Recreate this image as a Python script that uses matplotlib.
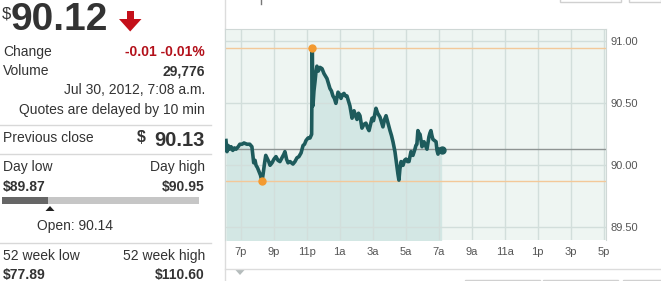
import matplotlib
matplotlib.use("Agg")
import matplotlib.pyplot as plt
from matplotlib.patches import Rectangle, Polygon

plt.rcParams['font.family'] = ['Liberation Sans', 'DejaVu Sans']

# hours since 6p (Jul 29) and last price
hours = [0.11, 0.17, 0.24, 0.32, 0.42, 0.52, 0.62, 0.72, 0.85, 0.95, 1.08, 1.2, 1.38, 1.55,
         1.68, 1.79, 1.87, 1.93, 2.02, 2.11, 2.2, 2.29, 2.36, 2.45, 2.52, 2.59, 2.7, 2.78,
         2.9, 3.02, 3.14, 3.26, 3.38, 3.5, 3.62, 3.68, 3.78, 3.87, 3.99, 4.08, 4.17, 4.29,
         4.41, 4.53, 4.66, 4.78, 4.87, 4.96, 5.08, 5.2, 5.3, 5.34, 5.38, 5.44, 5.5, 5.56,
         5.62, 5.7, 5.81, 5.93, 6.05, 6.14, 6.23, 6.32, 6.41, 6.5, 6.59, 6.68, 6.77, 6.9,
         7.0, 7.08, 7.17, 7.26, 7.35, 7.44, 7.53, 7.62, 7.75, 7.87, 7.96, 8.05, 8.14, 8.23,
         8.35, 8.47, 8.59, 8.7, 8.78, 8.87, 8.96, 9.05, 9.14, 9.2, 9.3, 9.44, 9.53, 9.62,
         9.72, 9.81, 9.93, 10.05, 10.14, 10.23, 10.35, 10.41, 10.47, 10.53, 10.59, 10.65,
         10.72, 10.78, 10.84, 10.93, 11.02, 11.11, 11.2, 11.32, 11.44, 11.56, 11.62, 11.68,
         11.74, 11.8, 11.87, 11.93, 11.99, 12.05, 12.11, 12.2, 12.29, 12.35, 12.41, 12.47,
         12.53, 12.59, 12.65, 12.75, 12.84, 12.9, 12.96, 13.02, 13.08, 13.13, 13.18]
prices = [90.20, 90.11, 90.16, 90.13, 90.15, 90.12, 90.14, 90.13, 90.15, 90.17, 90.17, 90.18,
          90.17, 90.17, 90.15, 90.02, 90.04, 90.00, 89.98, 89.95, 89.92, 89.87, 89.93, 90.02,
          90.08, 90.06, 90.03, 90.00, 90.02, 90.05, 90.07, 90.04, 90.03, 90.06, 90.09, 90.11,
          90.05, 90.02, 90.03, 90.02, 90.01, 90.03, 90.06, 90.07, 90.10, 90.16, 90.17, 90.20,
          90.22, 90.22, 90.25, 90.95, 90.48, 90.60, 90.67, 90.75, 90.80, 90.76, 90.79, 90.78,
          90.74, 90.72, 90.70, 90.66, 90.62, 90.60, 90.56, 90.54, 90.50, 90.59, 90.57, 90.54,
          90.57, 90.58, 90.56, 90.56, 90.52, 90.48, 90.38, 90.44, 90.40, 90.37, 90.42, 90.40,
          90.30, 90.33, 90.34, 90.30, 90.28, 90.33, 90.38, 90.36, 90.42, 90.46, 90.42, 90.39,
          90.35, 90.31, 90.37, 90.40, 90.34, 90.28, 90.24, 90.19, 90.11, 90.05, 89.99, 89.93,
          89.88, 89.97, 90.03, 90.00, 90.00, 90.04, 90.05, 90.03, 90.03, 90.11, 90.08, 90.13,
          90.16, 90.17, 90.28, 90.26, 90.25, 90.20, 90.15, 90.17, 90.19, 90.16, 90.13, 90.18,
          90.23, 90.26, 90.28, 90.24, 90.21, 90.20, 90.19, 90.12, 90.09, 90.13, 90.13, 90.12,
          90.12]

tick_hours = [1, 3, 5, 7, 9, 11, 13, 15, 17, 19, 21, 23]
tick_labels = ['7p', '9p', '11p', '1a', '3a', '5a', '7a', '9a', '11a', '1p', '3p', '5p']
price_ticks = [89.5, 90.0, 90.5, 91.0]

prev_close = 90.13
day_low = 89.87
day_high = 90.95
open_price = 90.14

W, H = 661, 281
fig = plt.figure(figsize=(W / 100, H / 100), dpi=100)

# full-figure pixel canvas for the quote panel
bg = fig.add_axes([0, 0, 1, 1])
bg.set_xlim(0, W)
bg.set_ylim(H, 0)
bg.axis('off')

dark = '#333333'
red = '#b3101a'
fs = 10

bg.text(2, 14, '$', fontsize=12, color=dark, va='center', ha='left')
bg.text(11, 20.5, '90.12', fontsize=28, fontweight='bold', color=dark, va='center', ha='left')
bg.add_patch(Rectangle((126.5, 11), 7.5, 9, color='#c4101a', lw=0))
bg.add_patch(Polygon([(119, 19), (141.5, 19), (130.2, 31.5)], closed=True, color='#c4101a', lw=0))

bg.text(3, 52, 'Change', fontsize=fs, color=dark, va='center')
bg.text(205, 52, '-0.01 -0.01%', fontsize=fs, color=red, fontweight='bold', va='center', ha='right')
bg.text(3, 71, 'Volume', fontsize=fs, color=dark, va='center')
bg.text(205, 71, '29,776', fontsize=fs, color=dark, fontweight='bold', va='center', ha='right')
bg.text(205, 90, 'Jul 30, 2012, 7:08 a.m.', fontsize=fs, color=dark, va='center', ha='right')
bg.text(205, 110, 'Quotes are delayed by 10 min', fontsize=fs, color=dark, va='center', ha='right')
bg.plot([0, 211], [124.5, 124.5], color='#d8d8d8', lw=1)

bg.text(3, 138, 'Previous close', fontsize=fs, color=dark, va='center')
bg.text(205, 141, '%.2f' % prev_close, fontsize=14.5, color=dark, fontweight='bold', va='center', ha='right')
bg.text(146, 138, '$', fontsize=11.5, color=dark, fontweight='bold', va='center', ha='right')
bg.plot([0, 211], [153.5, 153.5], color='#d8d8d8', lw=1)

bg.text(3, 167, 'Day low', fontsize=fs, color=dark, va='center')
bg.text(205, 167, 'Day high', fontsize=fs, color=dark, va='center', ha='right')
bg.text(3, 187, '$%.2f' % day_low, fontsize=fs, color=dark, fontweight='bold', va='center')
bg.text(205, 187, '$%.2f' % day_high, fontsize=fs, color=dark, fontweight='bold', va='center', ha='right')
bg.add_patch(Rectangle((2, 197), 197, 7, color='#c6c6c6', lw=0))
bg.add_patch(Rectangle((2, 197), 46, 7, color='#666666', lw=0))
bg.add_patch(Polygon([(45.5, 211), (54.5, 211), (50, 206)], closed=True, color='#222222', lw=0))
bg.text(37, 226, 'Open: %.2f' % open_price, fontsize=fs, color=dark, va='center')
bg.plot([0, 211], [242.5, 242.5], color='#d8d8d8', lw=1)

bg.text(3, 256, '52 week low', fontsize=fs, color=dark, va='center')
bg.text(205, 256, '52 week high', fontsize=fs, color=dark, va='center', ha='right')
bg.text(3, 275, '$77.89', fontsize=fs, color=dark, fontweight='bold', va='center')
bg.text(205, 275, '$110.60', fontsize=fs, color=dark, fontweight='bold', va='center', ha='right')

# chart panel frame bits
bg.plot([224.5, 224.5], [0, H], color='#dcdcdc', lw=1)
bg.plot([224.5, 661], [268.5, 268.5], color='#dcdcdc', lw=1)
bg.add_patch(Polygon([(235.5, 270), (244.5, 270), (240, 275)], closed=True, color='#b5bcbc', lw=0))
bg.plot([261, 261], [0, 4], color='#777777', lw=1)
for x0, x1 in [(560, 621), (629, 661)]:
    bg.add_patch(Rectangle((x0, -5), x1 - x0, 7, fill=False, ec='#d0d0d0', lw=1))
for x0, x1 in [(465, 540), (543, 618), (623, 665)]:
    bg.add_patch(Rectangle((x0, 279.5), x1 - x0, 6, fill=False, ec='#d0d0d0', lw=1))

# price chart
ax = fig.add_axes([225 / W, (H - 240) / H, 381 / W, 211 / H])
ax.set_facecolor('#eef5f2')
ax.set_xlim(0.05, 23.14)
ax.set_ylim(89.397, 91.10)

ax.fill_between(hours, prices, 89.0, color='#d3e7e4', lw=0, zorder=1)
for t in tick_hours:
    ax.axvline(t, color='#d2dedb', lw=1, zorder=1.5)
for p in price_ticks:
    ax.axhline(p, color='#d2dedb', lw=1, zorder=1.5)
ax.axhline(day_high, color='#f3c899', lw=1, zorder=2)
ax.axhline(day_low, color='#f3c899', lw=1, zorder=2)
ax.axhline(prev_close, color='#8e9493', lw=1, zorder=2)

ax.plot(hours, prices, color='#1e5b5c', lw=2.6, zorder=3, solid_joinstyle='round')
hi = prices.index(max(prices))
lo = prices.index(min(prices))
ax.plot([hours[hi]], [prices[hi]], 'o', color='#f39a30', ms=5, zorder=4)
ax.plot([hours[lo]], [prices[lo]], 'o', color='#f39a30', ms=5, zorder=4)
ax.plot([hours[-1]], [prices[-1]], 'o', color='#1e5b5c', ms=5, zorder=4)

ax.set_xticks(tick_hours)
ax.set_xticklabels(tick_labels)
ax.set_yticks(price_ticks)
ax.set_yticklabels(['%.2f' % p for p in price_ticks])
ax.yaxis.tick_right()
ax.tick_params(axis='both', length=0, labelsize=8, labelcolor='#555555')
ax.tick_params(axis='x', pad=5)
ax.tick_params(axis='y', pad=3.5)
for s in ['left', 'top', 'right']:
    ax.spines[s].set_color('#cfd8d6')
ax.spines['bottom'].set_visible(False)

fig.savefig('out.png', dpi=100)
